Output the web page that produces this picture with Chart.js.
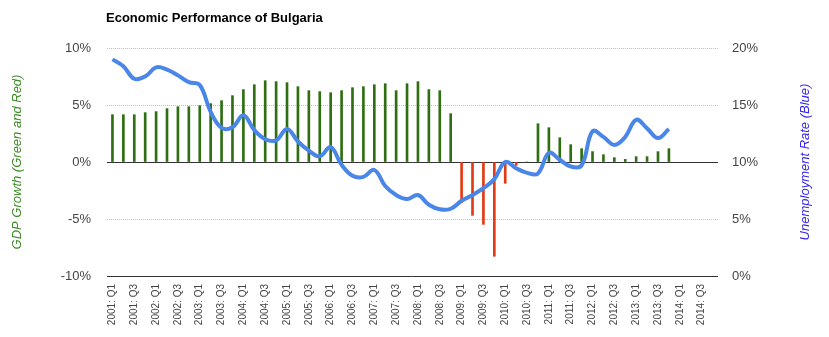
<!DOCTYPE html>
<html>
<head>
<meta charset="utf-8">
<script src="https://cdn.jsdelivr.net/npm/chart.js@4.4.1/dist/chart.umd.min.js"></script>
<style>
html,body{margin:0;padding:0;background:#fff;}
#wrap{position:relative;width:829px;height:337px;}
</style>
</head>
<body>
<div id="wrap"><canvas id="c"></canvas></div>
<script>
// ---------- data ----------
const years = [2001,2002,2003,2004,2005,2006,2007,2008,2009,2010,2011,2012,2013,2014];
const quarterNames = ['Q1','Q2','Q3','Q4'];
const categories = [];
years.forEach(y => quarterNames.forEach(q => categories.push(y + ': ' + q)));

// GDP growth, % (2001 Q1 .. 2013 Q4)
const gdpGrowth = [
  4.15, 4.15, 4.15, 4.33, 4.42, 4.68, 4.85, 4.85,
  4.94, 5.12, 5.38, 5.82, 6.35, 6.78, 7.13, 7.05,
  6.96, 6.61, 6.26, 6.17, 6.08, 6.26, 6.52, 6.61,
  6.78, 6.87, 6.26, 6.87, 7.05, 6.35, 6.26, 4.24,
  -3.57, -4.68, -5.47, -8.27, -1.87, -0.29, 0.0, 3.36,
  3.01, 2.13, 1.52, 1.17, 0.91, 0.64, 0.38, 0.23,
  0.47, 0.47, 0.91, 1.17
];

// Unemployment rate, % (2001 Q1 .. 2013 Q4)
const unemployment = [
  19.0, 18.4, 17.3, 17.5, 18.3, 18.1, 17.6, 17.0,
  16.75, 14.4, 13.0, 13.05, 14.1, 12.8, 12.0, 11.9,
  12.9, 11.8, 11.0, 10.5, 11.3, 9.75, 8.8, 8.7,
  9.3, 7.9, 7.1, 6.75, 7.1, 6.25, 5.85, 5.9,
  6.6, 7.1, 7.7, 8.5, 10.0, 9.45, 9.05, 9.0,
  10.8, 10.2, 9.6, 9.7, 12.7, 12.2, 11.5, 12.2,
  13.7, 12.95, 12.1, 12.9
];

const gdpTicks = [-10, -5, 0, 5, 10];
const unemploymentTicks = [0, 5, 10, 15, 20];

const titleText = 'Economic Performance of Bulgaria';
const leftTitle = 'GDP Growth (Green and Red)';
const rightTitle = 'Unemployment Rate (Blue)';

// ---------- styles ----------
const FONT = 'Arial, "Liberation Sans", sans-serif';
const GREEN = '#2f6e12';
const RED = '#e23a14';
const BLUE = '#4a86e8';

const textPlugin = {
  id: 'texts',
  afterDraw(chart) {
    const {ctx, chartArea} = chart;
    const midY = (chartArea.top + chartArea.bottom) / 2;
    ctx.save();
    ctx.fillStyle = '#000';
    ctx.font = 'bold 13px ' + FONT;
    ctx.textAlign = 'left';
    ctx.textBaseline = 'alphabetic';
    ctx.fillText(titleText, chartArea.left - 1, 22);

    ctx.font = 'italic 13px ' + FONT;
    ctx.textAlign = 'center';
    ctx.textBaseline = 'middle';
    ctx.save();
    ctx.translate(17, midY);
    ctx.rotate(-Math.PI / 2);
    ctx.fillStyle = '#3a8a22';
    ctx.fillText(leftTitle, 0, 0);
    ctx.restore();

    ctx.save();
    ctx.translate(805, midY);
    ctx.rotate(-Math.PI / 2);
    ctx.fillStyle = '#3322ee';
    ctx.fillText(rightTitle, 0, 0);
    ctx.restore();
    ctx.restore();
  }
};

const isBase = c => c.tick && (c.tick.value === 0 || c.tick.value === gdpTicks[0]);

new Chart(document.getElementById('c'), {
  data: {
    labels: categories,
    datasets: [
      {
        type: 'line',
        label: 'Unemployment',
        data: unemployment,
        yAxisID: 'y1',
        borderColor: BLUE,
        borderWidth: 4,
        pointRadius: 0,
        tension: 0.4,
        fill: false,
        order: 0
      },
      {
        type: 'bar',
        label: 'GDP',
        data: gdpGrowth,
        yAxisID: 'y',
        backgroundColor: gdpGrowth.map(v => v < 0 ? RED : GREEN),
        barThickness: 2,
        order: 1
      }
    ]
  },
  options: {
    responsive: true,
    maintainAspectRatio: false,
    animation: false,
    layout: {padding: {top: 48, left: 0, right: 0, bottom: 0}},
    plugins: {legend: {display: false}, tooltip: {enabled: false}, title: {display: false}},
    scales: {
      x: {
        grid: {display: false, drawTicks: false},
        border: {display: false},
        ticks: {
          autoSkip: false,
          minRotation: 90,
          maxRotation: 90,
          padding: 8,
          color: '#444',
          font: {family: FONT, size: 10},
          callback: function (value, index) {
            return index % 2 === 0 ? this.getLabelForValue(value) : '';
          }
        },
        afterFit: s => { s.height = 61; }
      },
      y: {
        position: 'left',
        min: gdpTicks[0],
        max: gdpTicks[gdpTicks.length - 1],
        afterBuildTicks: s => { s.ticks = gdpTicks.map(v => ({value: v})); },
        grid: {
          drawTicks: false,
          color: c => isBase(c) ? '#333' : '#c4bcc8',
          lineWidth: 1
        },
        border: {display: false, dash: c => isBase(c) ? [] : [1, 1]},
        ticks: {
          padding: 16,
          color: '#444',
          font: {family: FONT, size: 13},
          callback: v => v + '%'
        },
        afterFit: s => { s.width = 107; }
      },
      y1: {
        position: 'right',
        min: unemploymentTicks[0],
        max: unemploymentTicks[unemploymentTicks.length - 1],
        afterBuildTicks: s => { s.ticks = unemploymentTicks.map(v => ({value: v})); },
        grid: {display: false, drawTicks: false},
        border: {display: false},
        ticks: {
          padding: 14,
          color: '#444',
          font: {family: FONT, size: 13},
          callback: v => v + '%'
        },
        afterFit: s => { s.width = 111; }
      }
    }
  },
  plugins: [textPlugin]
});
</script>
</body>
</html>
